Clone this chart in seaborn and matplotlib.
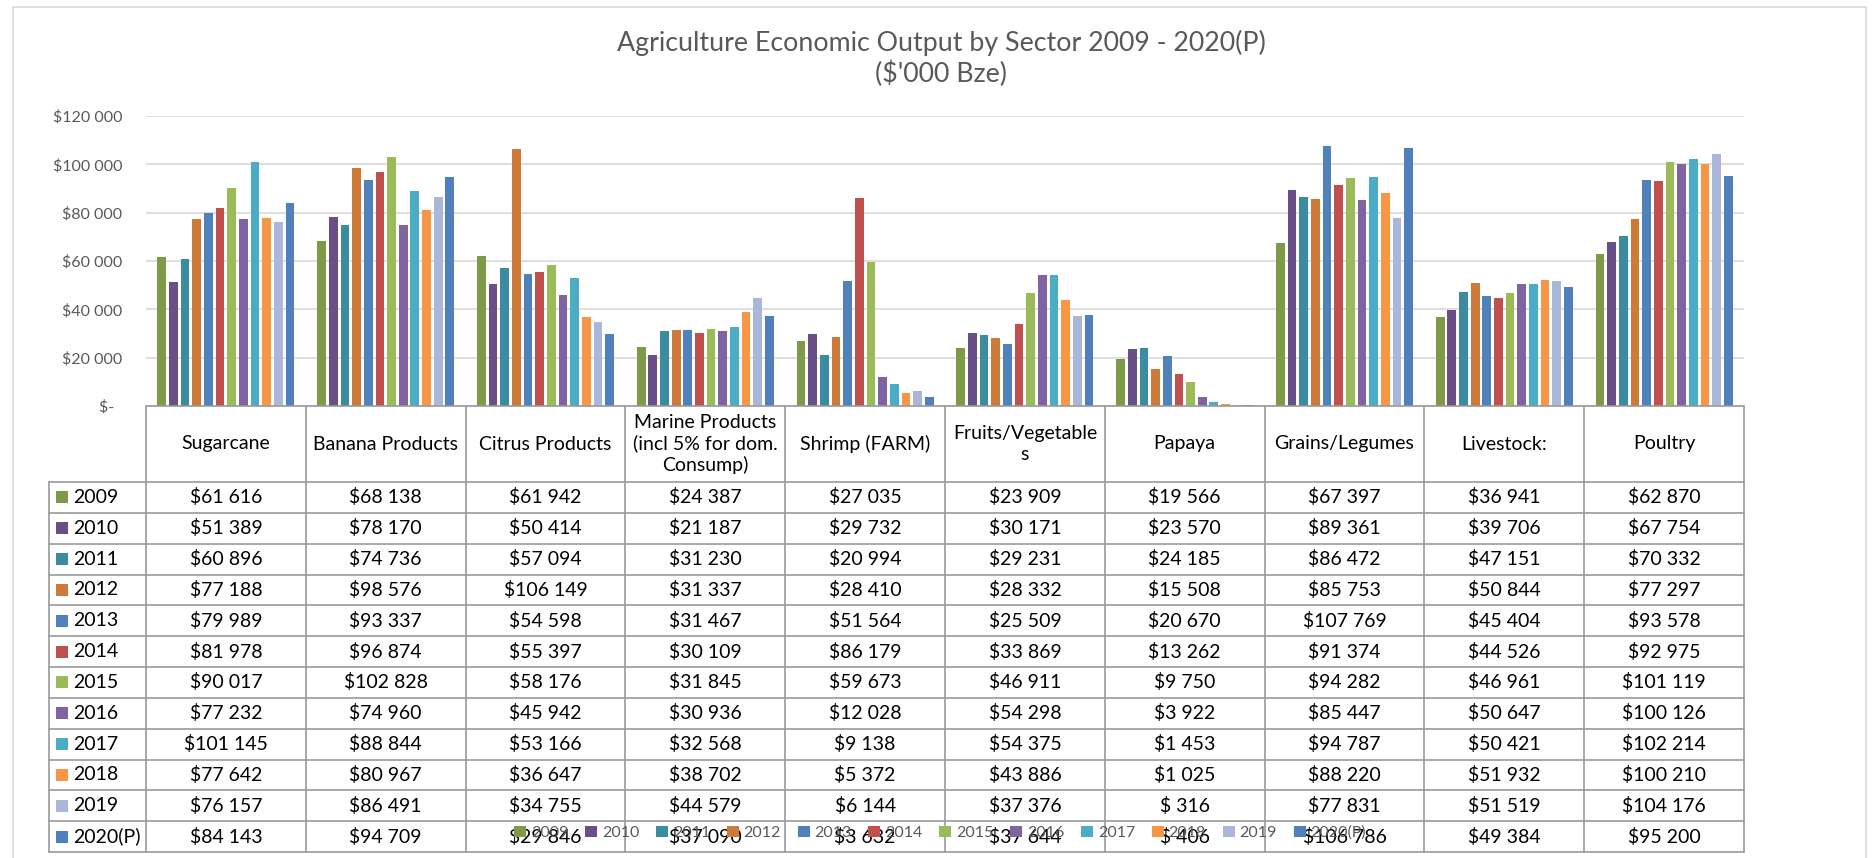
import matplotlib
matplotlib.use("Agg")
import matplotlib.pyplot as plt
import numpy as np
import pandas as pd
import seaborn as sns
from matplotlib.transforms import blended_transform_factory
from matplotlib.patches import Rectangle
from matplotlib.lines import Line2D

# ---- data ($'000 Bze) ----
sectors = ["Sugarcane", "Banana Products", "Citrus Products",
           "Marine Products\n(incl 5% for dom.\nConsump)", "Shrimp (FARM)",
           "Fruits/Vegetable\ns", "Papaya", "Grains/Legumes", "Livestock:", "Poultry"]
years = ["2009", "2010", "2011", "2012", "2013", "2014", "2015", "2016",
         "2017", "2018", "2019", "2020(P)"]

v2009 = [61616, 68138, 61942, 24387, 27035, 23909, 19566, 67397, 36941, 62870]
v2010 = [51389, 78170, 50414, 21187, 29732, 30171, 23570, 89361, 39706, 67754]
v2011 = [60896, 74736, 57094, 31230, 20994, 29231, 24185, 86472, 47151, 70332]
v2012 = [77188, 98576, 106149, 31337, 28410, 28332, 15508, 85753, 50844, 77297]
v2013 = [79989, 93337, 54598, 31467, 51564, 25509, 20670, 107769, 45404, 93578]
v2014 = [81978, 96874, 55397, 30109, 86179, 33869, 13262, 91374, 44526, 92975]
v2015 = [90017, 102828, 58176, 31845, 59673, 46911, 9750, 94282, 46961, 101119]
v2016 = [77232, 74960, 45942, 30936, 12028, 54298, 3922, 85447, 50647, 100126]
v2017 = [101145, 88844, 53166, 32568, 9138, 54375, 1453, 94787, 50421, 102214]
v2018 = [77642, 80967, 36647, 38702, 5372, 43886, 1025, 88220, 51932, 100210]
v2019 = [76157, 86491, 34755, 44579, 6144, 37376, 316, 77831, 51519, 104176]
v2020 = [84143, 94709, 29846, 37090, 3632, 37644, 406, 106786, 49384, 95200]
series = [v2009, v2010, v2011, v2012, v2013, v2014, v2015, v2016,
          v2017, v2018, v2019, v2020]

colors = ["#7E9A48", "#6A4F86", "#3B8BA1", "#CE7A38", "#4F81BD", "#C0504D",
          "#9BBB59", "#8064A2", "#4BACC6", "#F79646", "#A9B8D8", "#4E80BD"]

yticks = [0, 20000, 40000, 60000, 80000, 100000, 120000]


def money(v):
    if v == 0:
        return "$-  "
    if v < 1000:
        return f"$ {v}"
    return "$" + f"{v:,}".replace(",", " ")


df = pd.DataFrame({
    "sector": [s for _ in years for s in sectors],
    "year": [y for y in years for _ in sectors],
    "value": [v for vals in series for v in vals],
})

# ---- figure ----
W, H = 1872, 858
sns.set_style("white")
plt.rcParams["font.family"] = ["Lato", "DejaVu Sans"]
fig = plt.figure(figsize=(W / 100, H / 100), dpi=100)

ax_l, ax_r, ax_t, ax_b = 146, 1744, 116, 406
ax = fig.add_axes([ax_l / W, 1 - ax_b / H, (ax_r - ax_l) / W, (ax_b - ax_t) / H])

sns.barplot(data=df, x="sector", y="value", hue="year", hue_order=years,
            order=sectors, palette=colors, saturation=1, width=0.875,
            legend=False, ax=ax)

# narrow each bar inside its slot so the bars stand apart
for p in ax.patches:
    w = p.get_width()
    p.set_x(p.get_x() + w * 0.125)
    p.set_width(w * 0.75)
    p.set_linewidth(0)

ax.set_ylim(0, 120000)
ax.set_xlim(-0.5, len(sectors) - 0.5)
ax.set_yticks(yticks)
ax.set_yticklabels([money(t) for t in yticks])
ax.set_xticks([])
ax.set_xlabel("")
ax.set_ylabel("")
ax.tick_params(axis="y", length=0, pad=17, labelcolor="#595959", labelsize=11.5)
ax.yaxis.grid(True, color="#D9D9D9", linewidth=1.2)
ax.set_axisbelow(True)
for s in ax.spines.values():
    s.set_visible(False)

# ---- title ----
fig.text(941 / W, 1 - 43 / H, "Agriculture Economic Output by Sector 2009 - 2020(P)",
         ha="center", va="center", fontsize=19.3, color="#595959")
fig.text(941 / W, 1 - 74 / H, "($'000 Bze)",
         ha="center", va="center", fontsize=19.3, color="#595959")

# ---- data table under the plot ----
def fy(y):
    return 1 - y / H


tr = blended_transform_factory(ax.transData, fig.transFigure)
line_kw = dict(color="#9A9A9A", linewidth=1.2)
head_top, head_bot = ax_b, 482
row_h = (852 - head_bot) / len(years)
lab_left = 49

# horizontal rules
fig.add_artist(Line2D([ax_l / W, ax_r / W], [fy(head_top)] * 2,
                      transform=fig.transFigure, **line_kw))
for k in range(len(years) + 1):
    yy = fy(head_bot + k * row_h)
    fig.add_artist(Line2D([lab_left / W, ax_r / W], [yy, yy],
                          transform=fig.transFigure, **line_kw))
# vertical rules
for i in range(len(sectors) + 1):
    fig.add_artist(Line2D([i - 0.5, i - 0.5], [fy(head_top), fy(852)],
                          transform=tr, **line_kw))
fig.add_artist(Line2D([lab_left / W] * 2, [fy(head_bot), fy(852)],
                      transform=fig.transFigure, **line_kw))

# header cells
for i, name in enumerate(sectors):
    fig.text(i, fy((head_top + head_bot) / 2), name, transform=tr,
             ha="center", va="center", fontsize=14, color="black",
             linespacing=1.25)

# body cells
for r, (yr, vals, c) in enumerate(zip(years, series, colors)):
    yc = fy(head_bot + (r + 0.5) * row_h)
    fig.add_artist(Rectangle((56 / W, yc - 6 / H), 12 / W, 12 / H,
                             transform=fig.transFigure, facecolor=c,
                             edgecolor="none"))
    fig.text(73 / W, yc, yr, ha="left", va="center", fontsize=14, color="black")
    for i, v in enumerate(vals):
        fig.text(i, yc, money(v), transform=tr, ha="center", va="center",
                 fontsize=14, color="black")

# ---- legend ----
handles = [Rectangle((0, 0), 1, 1, facecolor=c, edgecolor="none") for c in colors]
fig.legend(handles, years, loc="center", bbox_to_anchor=(940 / W, fy(833)),
           ncol=len(years), frameon=False, fontsize=11.5, labelcolor="#595959",
           handlelength=0.75, handleheight=0.75, handletextpad=0.3,
           columnspacing=1.05, borderpad=0)

# ---- chart border ----
fig.add_artist(Rectangle((13 / W, fy(H + 5)), (1866 - 13) / W, (H + 5 - 7) / H,
                         transform=fig.transFigure, fill=False,
                         edgecolor="#D9D9D9", linewidth=1.2))

fig.savefig("out.png", dpi=100)
